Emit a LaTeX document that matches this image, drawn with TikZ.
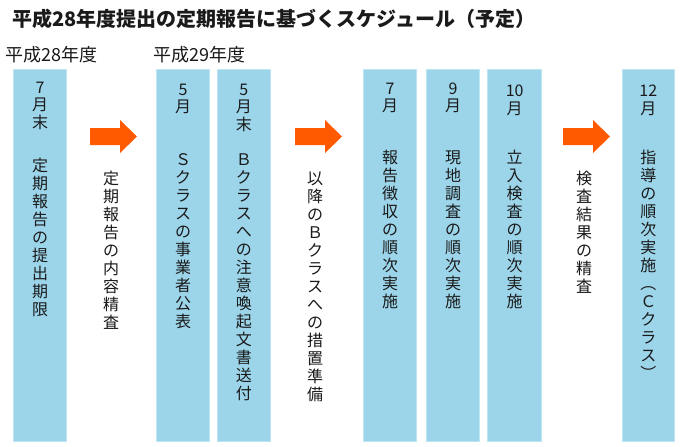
\documentclass[tikz,border=0pt]{standalone}
\usepackage{fontspec}
\setmainfont{Noto Sans CJK JP}
\newcommand{\vtxt}[1]{\rule{0pt}{14pt}#1}
\begin{document}
\begin{tikzpicture}[x=1pt,y=-1pt,
  boxst/.style={fill=boxblue,draw=boxedge,line width=0.8pt,minimum width=52.6pt,minimum height=371.6pt,inner sep=0pt},
  vhead/.style={font=\fontsize{16}{17.5}\selectfont,align=center,inner sep=0pt,anchor=north,text=txt},
  vbody/.style={font=\fontsize{16}{18}\selectfont,align=center,inner sep=0pt,anchor=north,text=txt},
  yearst/.style={anchor=base west,inner sep=0pt,font=\fontsize{18}{20}\selectfont,text=txt},
  arrowst/.style={fill=arrorange,draw=none}]
\definecolor{boxblue}{HTML}{9CD5EA}
\definecolor{boxedge}{HTML}{BEE5F3}
\definecolor{arrorange}{HTML}{FF5A00}
\definecolor{txt}{HTML}{1A1A1A}
\useasboundingbox (0,0) rectangle (680,447);
\fill[white] (0,0) rectangle (680,447);
% title
\node[anchor=base west,inner sep=0pt,font=\fontsize{20}{22}\selectfont\bfseries,text=txt] (title) at (12,26) {平成28年度提出の定期報告に基づくスケジュール（予定）};
\node[yearst] (y28) at (5,61) {平成28年度};
\node[yearst] (y29) at (153,61) {平成29年度};
% boxes
\node[boxst] (b1) at (40,255.5) {};
\node[boxst] (b2) at (183,255.5) {};
\node[boxst] (b3) at (243.8,255.5) {};
\node[boxst] (b4) at (390,255.5) {};
\node[boxst] (b5) at (453,255.5) {};
\node[boxst,minimum width=54pt] (b6) at (514.7,255.5) {};
\node[boxst] (b7) at (648.3,255.5) {};
% arrows
\fill[arrowst] (90,128) -- (120,128) -- (120,120) -- (137,136.5) -- (120,153) -- (120,145) -- (90,145) -- cycle;
\fill[arrowst] (295,128) -- (325,128) -- (325,120) -- (342,136.5) -- (325,153) -- (325,145) -- (295,145) -- cycle;
\fill[arrowst] (563,128) -- (593,128) -- (593,120) -- (610,136.5) -- (593,153) -- (593,145) -- (563,145) -- cycle;
% box texts
\node[vhead] (h1) at (40,79) {\vtxt{7}\\月\\末};
\node[vbody] (t1) at (40,157) {\vtxt{定}\\期\\報\\告\\の\\提\\出\\期\\限};
\node[vhead] (h2) at (183,81) {\vtxt{5}\\月};
\node[vbody] (t2) at (183,151) {\vtxt{Ｓ}\\ク\\ラ\\ス\\の\\事\\業\\者\\公\\表};
\node[vhead] (h3) at (243.8,81) {\vtxt{5}\\月\\末};
\node[vbody] (t3) at (243.8,151) {\vtxt{Ｂ}\\ク\\ラ\\ス\\へ\\の\\注\\意\\喚\\起\\文\\書\\送\\付};
\node[vhead] (h4) at (390,80) {\vtxt{7}\\月};
\node[vbody] (t4) at (390,149) {\vtxt{報}\\告\\徴\\収\\の\\順\\次\\実\\施};
\node[vhead] (h5) at (453,80) {\vtxt{9}\\月};
\node[vbody] (t5) at (453,149) {\vtxt{現}\\地\\調\\査\\の\\順\\次\\実\\施};
\node[vbody] (h6) at (514.7,82) {\vtxt{10}\\月};
\node[vbody] (t6) at (514.7,149) {\vtxt{立}\\入\\検\\査\\の\\順\\次\\実\\施};
\node[vbody] (h7) at (648.3,82) {\vtxt{12}\\月};
\node[vbody] (t7) at (648.3,149) {\vtxt{指}\\導\\の\\順\\次\\実\\施\\︵\\Ｃ\\ク\\ラ\\ス\\︶};
% between texts
\node[vbody] (m1) at (111,170) {\vtxt{定}\\期\\報\\告\\の\\内\\容\\精\\査};
\node[vbody] (m2) at (315,170) {\vtxt{以}\\降\\の\\Ｂ\\ク\\ラ\\ス\\へ\\の\\措\\置\\準\\備};
\node[vbody] (m3) at (584,170) {\vtxt{検}\\査\\結\\果\\の\\精\\査};
\end{tikzpicture}
\end{document}
